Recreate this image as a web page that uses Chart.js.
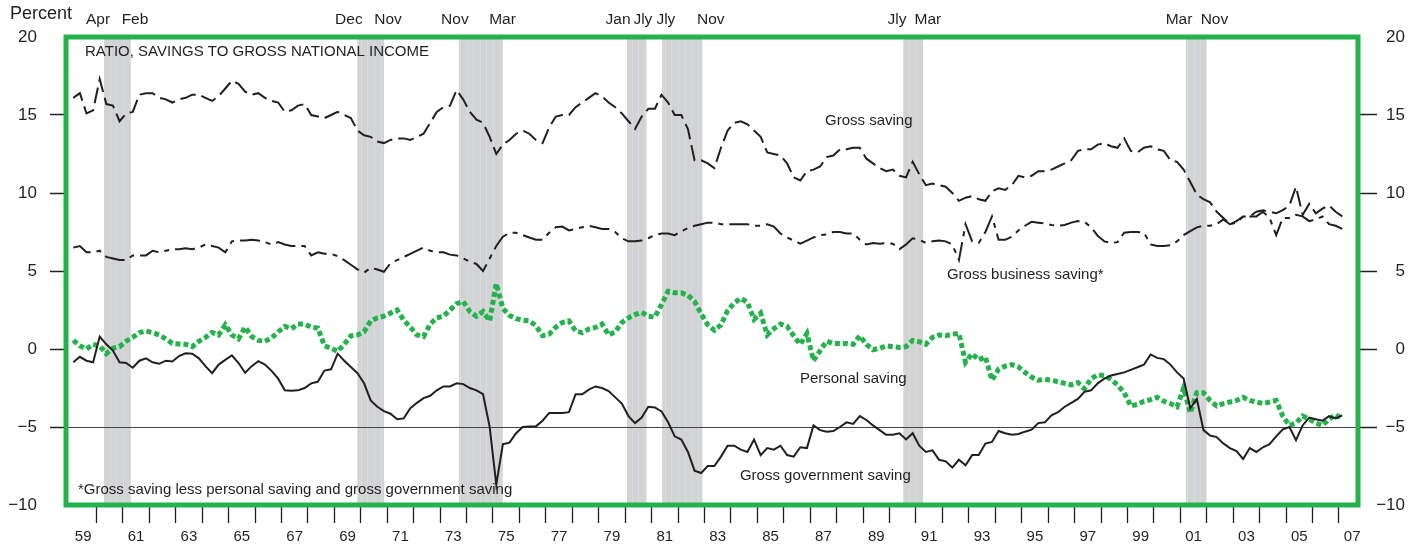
<!DOCTYPE html>
<html>
<head>
<meta charset="utf-8">
<script src="https://cdn.jsdelivr.net/npm/chart.js@4.4.0/dist/chart.umd.min.js"></script>
<style>
  html, body { margin: 0; padding: 0; background: #fff; }
</style>
</head>
<body>
<canvas id="myChart" width="1421" height="550"></canvas>
<script>
// quarterly ratios, percent of gross national income, 1959 Q1 onward
const firstQuarter = 1959.125;

const grossSaving = [
  16.1, 16.4, 15.1, 15.3, 17.3, 15.7, 15.6, 14.6, 15.1, 15.2,
  16.3, 16.4, 16.4, 16.1, 16.0, 15.8, 16.0, 16.1, 16.3, 16.3,
  16.1, 15.9, 16.2, 16.7, 17.2, 17.0, 16.5, 16.3, 16.4, 16.1,
  15.9, 15.8, 15.2, 15.3, 15.6, 15.7, 15.0, 14.9, 14.8, 15.0,
  15.2, 15.0, 14.8, 14.0, 13.7, 13.6, 13.3, 13.2, 13.4, 13.5,
  13.5, 13.4, 13.6, 13.8, 14.5, 15.2, 15.5, 15.6, 16.6, 16.0,
  15.2, 14.7, 14.5, 13.6, 12.5, 13.1, 13.4, 13.8, 14.0, 13.8,
  13.4, 13.2, 14.2, 14.9, 15.0, 15.0, 15.5, 15.8, 16.1, 16.4,
  16.2, 15.8, 15.5, 15.1, 14.6, 14.1, 14.9, 15.4, 15.4, 16.3,
  15.8, 15.0, 15.0, 14.1, 12.1, 12.1, 11.9, 11.6, 12.9, 14.0,
  14.5, 14.6, 14.4, 14.0, 13.6, 12.6, 12.5, 12.4, 11.9, 11.0,
  10.8, 11.4, 11.5, 11.7, 12.3, 12.4, 12.8, 12.8, 12.9, 12.9,
  12.2, 11.9, 11.6, 11.4, 11.5, 11.1, 11.0, 12.0, 11.2, 10.5,
  10.6, 10.5, 10.4, 10.0, 9.5, 9.7, 9.8, 9.6, 9.5, 10.1,
  10.3, 10.2, 10.5, 11.1, 11.0, 11.1, 11.4, 11.4, 11.5, 11.7,
  11.9, 12.1, 12.7, 12.8, 12.8, 13.1, 13.2, 13.0, 12.9, 13.5,
  12.7, 12.6, 12.9, 13.0, 12.8, 12.7, 12.1, 12.0, 11.5, 10.7,
  9.9, 9.6, 9.4, 8.8, 8.4, 8.0, 8.2, 8.5, 8.5, 8.8,
  8.9, 8.8, 8.7, 8.9, 9.2, 10.4, 8.6, 9.3, 8.7, 9.0,
  9.2, 8.8, 8.5
];

const businessSaving = [
  6.5, 6.6, 6.2, 6.2, 6.3, 5.9, 5.8, 5.7, 5.7, 6.0,
  6.0, 6.0, 6.3, 6.2, 6.3, 6.4, 6.4, 6.45, 6.4, 6.5,
  6.7, 6.6, 6.5, 6.2, 6.9, 6.95, 6.95, 7.0, 6.95, 6.85,
  6.7, 6.85, 6.7, 6.6, 6.6, 6.6, 6.0, 6.2, 6.1, 6.1,
  5.95, 5.7, 5.4, 5.1, 4.9, 5.2, 5.1, 4.95, 5.5, 5.7,
  5.9, 6.1, 6.3, 6.5, 6.3, 6.2, 6.2, 6.05, 6.0, 5.8,
  5.6, 5.45, 5.0, 5.8, 6.6, 7.2, 7.45, 7.45, 7.3, 7.15,
  7.0, 7.0, 7.45, 7.8, 7.85, 7.6, 7.7, 7.8, 7.9, 7.8,
  7.7, 7.7, 7.5, 7.1, 6.9, 6.9, 6.95, 7.1, 7.3, 7.4,
  7.4, 7.3, 7.55, 7.75, 7.9, 8.0, 8.1, 8.1, 8.0, 8.0,
  8.0, 8.0, 8.0, 7.9, 7.9, 8.0, 7.85, 7.4, 7.15, 6.95,
  6.75, 6.95, 7.15, 7.3, 7.35, 7.5, 7.5, 7.4, 7.4, 7.0,
  6.7, 6.8, 6.75, 6.8, 6.75, 6.4, 6.7, 7.1, 7.0, 6.8,
  6.9, 6.95, 6.9, 6.7, 5.7, 8.0, 6.9, 6.8, 7.5, 8.5,
  7.0, 7.0, 7.2, 7.6, 7.9, 8.15, 8.1, 8.05, 7.95, 7.9,
  7.95, 8.1, 8.2, 8.15, 7.8, 7.25, 6.9, 6.8, 6.85, 7.45,
  7.5, 7.5, 7.45, 6.7, 6.6, 6.6, 6.65, 6.9, 7.3, 7.55,
  7.8, 7.9, 7.9, 8.0, 8.3, 8.0, 8.1, 8.5, 8.5, 8.5,
  8.8, 8.4, 7.3, 8.4, 8.4, 8.6, 8.5, 8.2, 8.3, 8.5,
  8.0, 7.9, 7.7
];

const personalSaving = [
  0.55, 0.2, 0.0, 0.3, 0.2, -0.3, 0.05, 0.15, 0.5, 0.75,
  1.05, 1.15, 1.05, 0.9, 0.65, 0.36, 0.32, 0.3, 0.15, 0.5,
  0.74, 1.06, 0.9, 1.55, 0.9, 0.65, 1.4, 0.8, 0.55, 0.5,
  0.7, 1.1, 1.45, 1.3, 1.6, 1.6, 1.4, 1.35, 0.2, 0.05,
  -0.15, 0.3, 0.85, 0.9, 1.1, 1.8, 2.0, 2.1, 2.3, 2.5,
  1.85, 1.4, 0.9, 0.8, 1.6, 2.0, 2.1, 2.5, 2.9, 3.05,
  2.4, 2.1, 2.4, 1.8, 4.2, 2.6, 2.15, 1.95, 1.85, 1.8,
  1.5, 0.85, 0.95, 1.4, 1.7, 1.8, 1.15, 1.05, 1.28, 1.38,
  1.6, 0.9, 1.1, 1.7, 2.0, 2.2, 2.35, 2.1, 2.05, 2.85,
  3.7, 3.6, 3.6, 3.45, 3.05, 2.25, 1.55, 1.2, 1.55, 2.45,
  2.95, 3.25, 3.0, 1.9, 2.3, 0.9, 1.3, 1.6, 1.45, 0.85,
  0.3, 1.0, -0.75, -0.1, 0.5, 0.35, 0.35, 0.36, 0.3, 0.85,
  0.3, -0.05, 0.05, 0.2, 0.15, 0.1, 0.15, 0.55, 0.47, 0.3,
  0.75, 0.9, 0.85, 0.95, 1.0, -0.85, -0.3, -0.7, -0.5, -2.0,
  -1.3, -1.1, -1.0, -1.15, -1.5, -1.8, -2.0, -1.95, -2.0, -2.1,
  -2.2, -2.3, -2.15, -2.55, -1.9, -1.65, -1.7, -1.95, -2.3, -2.8,
  -3.65, -3.55, -3.35, -3.25, -3.1, -3.35, -3.5, -3.7, -2.5, -4.1,
  -2.8, -2.8, -3.3, -3.65, -3.5, -3.4, -3.3, -3.1, -3.3, -3.4,
  -3.5, -3.4, -3.3, -4.3, -4.9, -4.75, -4.3, -4.5, -4.75, -4.9,
  -4.5, -4.2, -4.5
];

const governmentSaving = [
  -0.85, -0.5, -0.75, -0.85, 0.8, 0.3, -0.1, -0.85, -0.9, -1.2,
  -0.75, -0.6, -0.85, -0.95, -0.75, -0.8, -0.45, -0.28, -0.3, -0.6,
  -1.1, -1.55, -1.0, -0.7, -0.4, -0.9, -1.52, -1.1, -0.78, -1.0,
  -1.4, -1.9, -2.65, -2.68, -2.65, -2.5, -2.2, -2.1, -1.38, -1.3,
  -0.3, -0.75, -1.15, -1.55, -2.2, -3.3, -3.7, -3.98, -4.15, -4.5,
  -4.45, -3.8, -3.45, -3.15, -3.0, -2.65, -2.4, -2.4, -2.2, -2.25,
  -2.5, -2.65, -2.9, -5.0, -8.7, -6.1, -6.0, -5.4, -5.0, -4.96,
  -4.96, -4.6, -4.1, -4.1, -4.1, -4.05, -2.9, -2.9, -2.6, -2.4,
  -2.5, -2.7, -3.1, -3.5, -4.3, -4.75, -4.4, -3.7, -3.75, -4.0,
  -4.7, -5.6, -5.8, -6.6, -7.8, -7.95, -7.5, -7.5, -6.9, -6.2,
  -6.2, -6.45, -6.6, -5.8, -6.8, -6.35, -6.45, -6.2, -6.8, -6.9,
  -6.3, -6.35, -4.9, -5.2, -5.3, -5.26, -5.0, -4.7, -4.8, -4.3,
  -4.55, -4.9, -5.2, -5.5, -5.5, -5.4, -5.8, -5.4, -6.2, -6.6,
  -6.5, -7.1, -7.2, -7.6, -7.1, -7.45, -6.8, -6.8, -6.06, -5.96,
  -5.26, -5.4, -5.5, -5.45, -5.3, -5.17, -4.75, -4.7, -4.25, -4.05,
  -3.7, -3.45, -3.2, -2.75, -2.65, -2.2, -1.9, -1.7, -1.6, -1.5,
  -1.34, -1.17, -1.0, -0.35, -0.57, -0.65, -1.0, -1.5, -1.9, -3.8,
  -3.2, -5.2, -5.55, -5.65, -6.05, -6.35, -6.55, -7.05, -6.35, -6.6,
  -6.3, -6.1, -5.6, -5.15, -5.0, -5.85, -4.9, -4.4, -4.5, -4.6,
  -4.3, -4.45, -4.25
];

// recession shading (fraction of year)
const recessionStart = [1960.29, 1969.87, 1973.71, 1980.07, 1981.40, 1990.52, 2001.21];
const recessionEnd   = [1961.30, 1970.88, 1975.37, 1980.81, 1982.92, 1991.27, 2001.99];

// month labels above the chart
const monthLabels = ['Apr', 'Feb', 'Dec', 'Nov', 'Nov', 'Mar', 'Jan', 'Jly', 'Jly', 'Nov', 'Jly', 'Mar', 'Mar', 'Nov'];
const monthTicks  = [1960.06, 1961.46, 1969.55, 1971.03, 1973.56, 1975.36, 1979.73, 1980.67, 1981.54, 1983.24, 1990.28, 1991.45, 2000.95, 2002.29];

// year axis
const labelYears = [1959, 1961, 1963, 1965, 1967, 1969, 1971, 1973, 1975, 1977, 1979, 1981, 1983,
                    1985, 1987, 1989, 1991, 1993, 1995, 1997, 1999, 2001, 2003, 2005, 2007];
const yTicks = [-10, -5, 0, 5, 10, 15, 20];

const notes = [
  { text: 'RATIO, SAVINGS TO GROSS NATIONAL INCOME', x: 1959.57, y: 19.04 },
  { text: 'Gross saving', x: 1987.56, y: 14.6 },
  { text: 'Gross business saving*', x: 1992.17, y: 4.74 },
  { text: 'Personal saving', x: 1986.61, y: -1.92 },
  { text: 'Gross government saving', x: 1984.34, y: -8.14 },
  { text: '*Gross saving less personal saving and gross government saving', x: 1959.30, y: -9.04 }
];

const xMin = 1958.85;
const xMax = 2007.72;
const FONT = "'Liberation Sans', Arial, Helvetica, sans-serif";
const INK = '#231f20';
const GREEN = '#23b24b';
const NONE = 'rgba(0,0,0,0)';

const quarters = grossSaving.map((_, i) => firstQuarter + i * 0.25);
const toPoints = vals => vals.map((v, i) => ({ x: quarters[i], y: v }));

const bandsPlugin = {
  id: 'bands',
  beforeDraw(chart) {
    const { ctx, chartArea: a, scales: { x } } = chart;
    ctx.save();
    recessionStart.forEach((s, k) => {
      const x0 = x.getPixelForValue(s);
      const x1 = x.getPixelForValue(recessionEnd[k]);
      ctx.fillStyle = '#d1d3d4';
      ctx.fillRect(x0, a.top, x1 - x0, a.bottom - a.top);
      // faint seams between the shaded quarters
      ctx.strokeStyle = '#d9dadb';
      ctx.lineWidth = 1;
      for (let q = Math.ceil(s * 4) / 4; q < recessionEnd[k] - 0.05; q += 0.25) {
        const px = Math.round(x.getPixelForValue(q)) + 0.5;
        ctx.beginPath();
        ctx.moveTo(px, a.top);
        ctx.lineTo(px, a.bottom);
        ctx.stroke();
      }
    });
    ctx.restore();
  }
};

const overlayPlugin = {
  id: 'overlay',
  afterDraw(chart) {
    const { ctx, chartArea: a, scales: { x, y } } = chart;
    ctx.save();
    ctx.fillStyle = INK;
    ctx.textAlign = 'left';
    ctx.textBaseline = 'middle';
    ctx.font = '15px ' + FONT;
    notes.forEach(n => ctx.fillText(n.text, x.getPixelForValue(n.x), y.getPixelForValue(n.y)));

    ctx.font = '18px ' + FONT;
    ctx.fillText('Percent', 10, a.top - 23);

    ctx.strokeStyle = GREEN;
    ctx.lineWidth = 5;
    ctx.strokeRect(a.left, a.top, a.right - a.left, a.bottom - a.top);
    ctx.restore();
  }
};

window.onload = () => {
  const canvas = document.getElementById('myChart');

  const tickMark = c => (c.tick && (c.tick.value === 20 || c.tick.value === -10)) ? NONE : INK;
  const yLabel = v => v < 0 ? '\u2212' + Math.abs(v) : String(v);

  new Chart(canvas, {
    type: 'line',
    data: {
      datasets: [
        {
          label: 'Gross government saving',
          data: toPoints(governmentSaving),
          borderColor: INK,
          borderWidth: 2,
          order: 1
        },
        {
          label: 'Personal saving',
          data: toPoints(personalSaving),
          borderColor: GREEN,
          borderWidth: 5,
          borderDash: [5, 3],
          order: 2
        },
        {
          label: 'Gross saving',
          data: toPoints(grossSaving),
          borderColor: INK,
          borderWidth: 2,
          borderDash: [16, 6],
          order: 3
        },
        {
          label: 'Gross business saving',
          data: toPoints(businessSaving),
          borderColor: INK,
          borderWidth: 2,
          borderDash: [20, 6, 5, 6],
          order: 4
        }
      ]
    },
    options: {
      responsive: false,
      animation: false,
      layout: { padding: { left: 0, right: 16, top: 0, bottom: 0 } },
      elements: {
        point: { radius: 0, hoverRadius: 0 },
        line: { tension: 0, borderCapStyle: 'butt', borderJoinStyle: 'miter' }
      },
      plugins: {
        legend: { display: false },
        tooltip: { enabled: false }
      },
      scales: {
        x: {
          type: 'linear',
          position: 'bottom',
          min: xMin,
          max: xMax,
          afterBuildTicks: s => {
            const marks = [];
            for (let yr = 1960; yr <= 2007; yr++) marks.push(yr);
            s.ticks = marks.concat(labelYears.map(yr => yr + 0.5))
              .sort((p, q) => p - q)
              .map(v => ({ value: v }));
          },
          ticks: {
            autoSkip: false,
            maxRotation: 0,
            padding: 5,
            color: INK,
            font: { family: FONT, size: 15 },
            callback: v => Number.isInteger(v) ? '' : String(Math.floor(v)).slice(2)
          },
          grid: {
            drawOnChartArea: false,
            tickLength: 18,
            tickWidth: 1.3,
            tickColor: c => Number.isInteger(c.tick.value) ? INK : NONE
          },
          border: { display: false },
          afterFit: s => { s.height = 45; }
        },
        xTop: {
          type: 'linear',
          position: 'top',
          min: xMin,
          max: xMax,
          afterBuildTicks: s => { s.ticks = monthTicks.map(v => ({ value: v })); },
          ticks: {
            autoSkip: false,
            maxRotation: 0,
            padding: 8,
            color: INK,
            font: { family: FONT, size: 15.5 },
            callback: (v, i) => monthLabels[i]
          },
          grid: { display: false, drawTicks: false },
          border: { display: false },
          afterFit: s => { s.height = 37; }
        },
        y: {
          position: 'left',
          min: -10,
          max: 20,
          afterBuildTicks: s => { s.ticks = yTicks.map(v => ({ value: v })); },
          ticks: {
            padding: 13,
            color: INK,
            font: { family: FONT, size: 17 },
            callback: yLabel
          },
          grid: {
            color: c => (c.tick && c.tick.value === -5) ? '#444444' : NONE,
            lineWidth: 1,
            tickLength: 16,
            tickWidth: 1.5,
            tickColor: tickMark
          },
          border: { display: false },
          afterFit: s => { s.width = 66; }
        },
        y2: {
          position: 'right',
          min: -10,
          max: 20,
          afterBuildTicks: s => { s.ticks = yTicks.map(v => ({ value: v })); },
          ticks: {
            padding: 9,
            crossAlign: 'far',
            color: INK,
            font: { family: FONT, size: 17 },
            callback: yLabel
          },
          grid: {
            drawOnChartArea: false,
            tickLength: 19,
            tickWidth: 1.5,
            tickColor: tickMark
          },
          border: { display: false },
          afterFit: s => { s.width = 47; }
        }
      }
    },
    plugins: [bandsPlugin, overlayPlugin]
  });
};
</script>
</body>
</html>
